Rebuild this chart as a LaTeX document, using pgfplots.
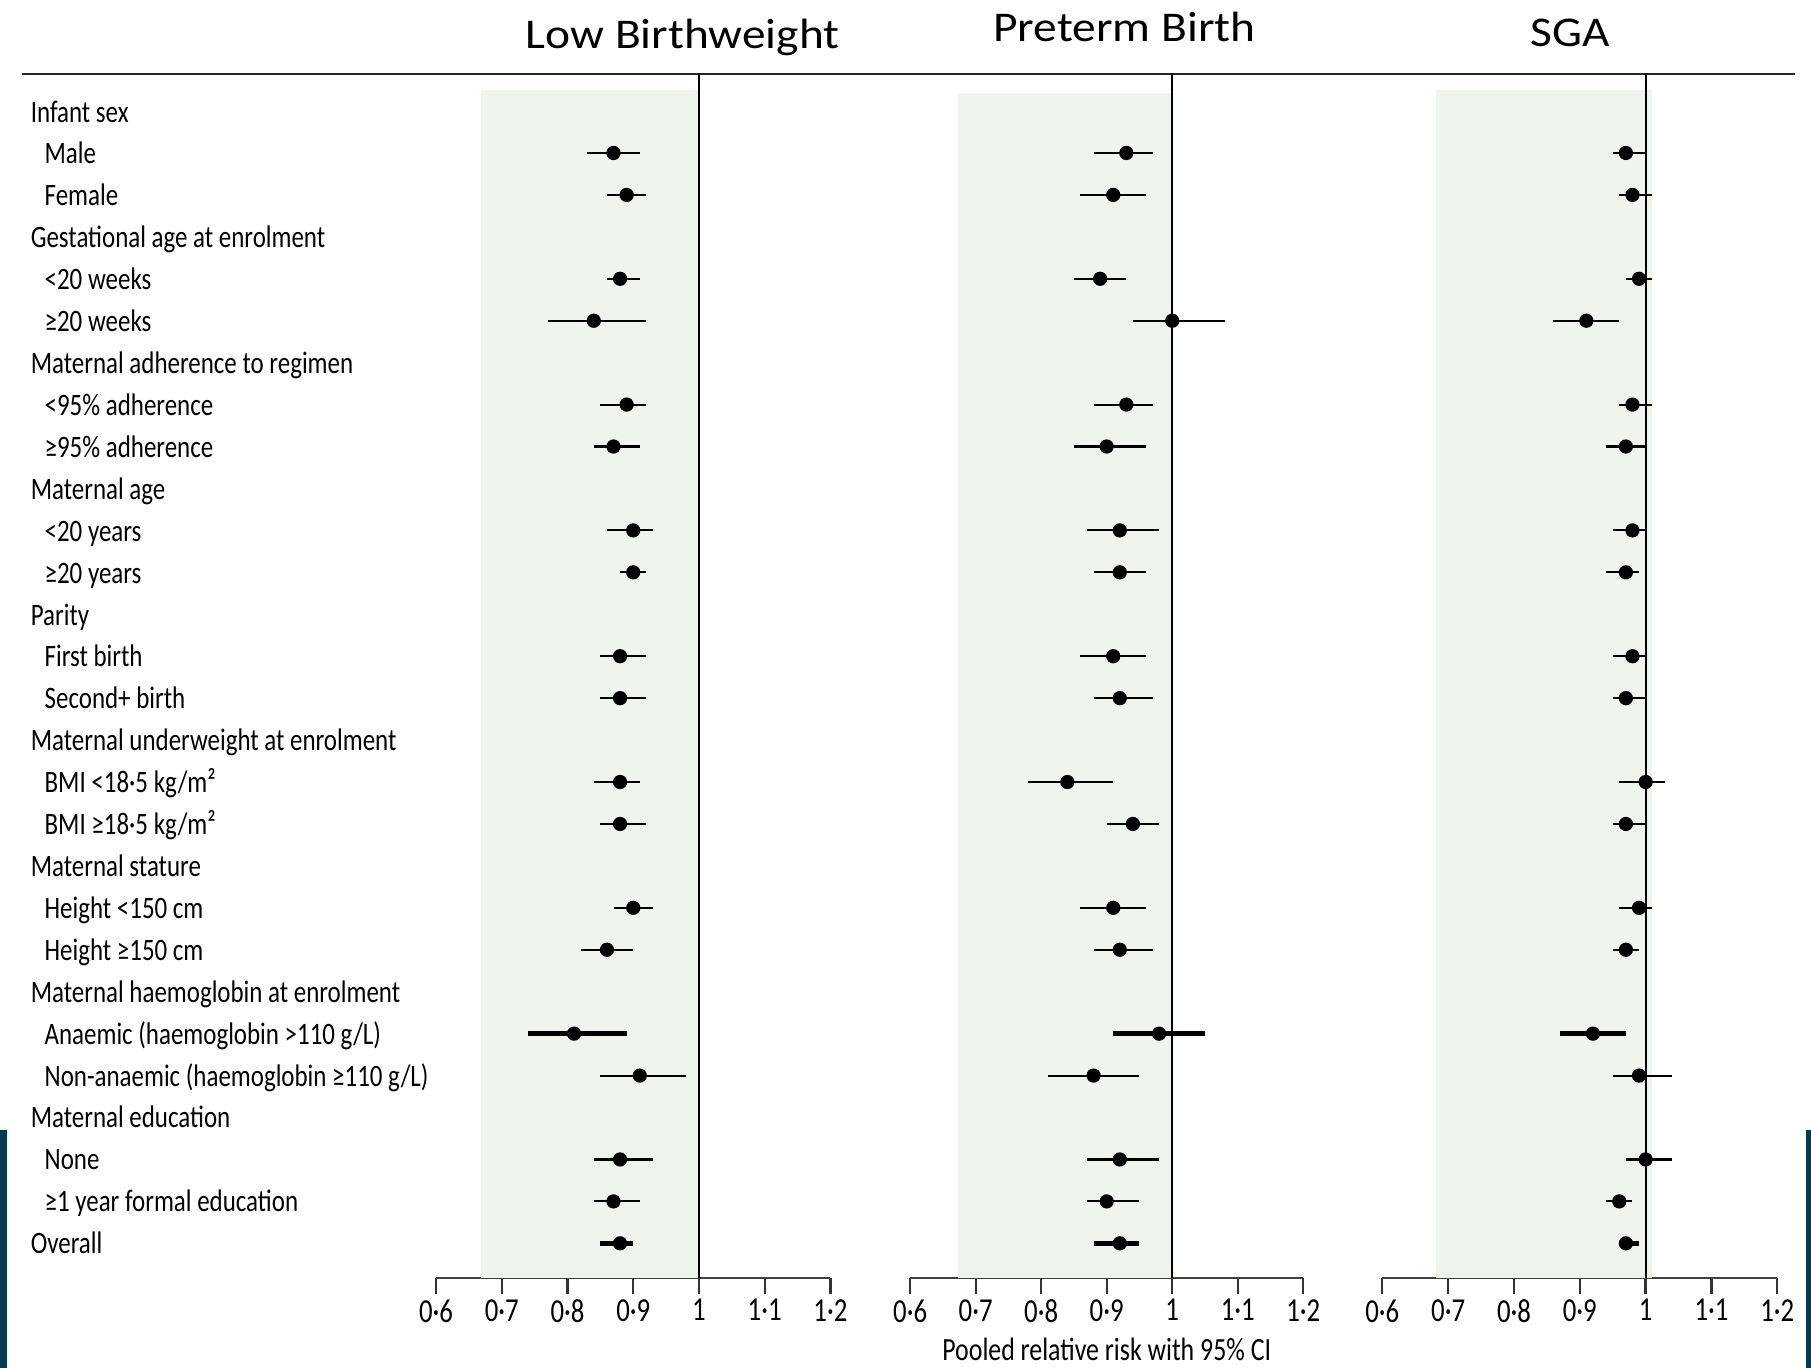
\documentclass[border=0pt]{standalone}
\usepackage{pgfplots}
\pgfplotsset{compat=1.18}
\usepackage{pgfplotstable}
\usepackage{fontspec}
\setmainfont{Carlito}
\newfontfamily\cond[FakeStretch=0.8]{Carlito}
\newfontfamily\ttl[FakeStretch=1.12]{Carlito}
\definecolor{bgshade}{RGB}{239,245,236}
\definecolor{navy}{RGB}{5,56,82}

% Low birthweight
\pgfplotstableread{
row est lo hi
1 0.87 0.83 0.91
2 0.89 0.86 0.92
4 0.88 0.86 0.91
5 0.84 0.77 0.92
7 0.89 0.85 0.92
8 0.87 0.84 0.91
10 0.90 0.86 0.93
11 0.90 0.88 0.92
13 0.88 0.85 0.92
14 0.88 0.85 0.92
16 0.88 0.84 0.91
17 0.88 0.85 0.92
19 0.90 0.87 0.93
20 0.86 0.82 0.90
23 0.91 0.85 0.98
25 0.88 0.84 0.93
26 0.87 0.84 0.91
}\lbw
\pgfplotstableread{
row est lo hi
22 0.81 0.74 0.89
27 0.88 0.85 0.90
}\lbwT
% Preterm birth
\pgfplotstableread{
row est lo hi
1 0.93 0.88 0.97
2 0.91 0.86 0.96
4 0.89 0.85 0.93
5 1.00 0.94 1.08
7 0.93 0.88 0.97
8 0.90 0.85 0.96
10 0.92 0.87 0.98
11 0.92 0.88 0.96
13 0.91 0.86 0.96
14 0.92 0.88 0.97
16 0.84 0.78 0.91
17 0.94 0.90 0.98
19 0.91 0.86 0.96
20 0.92 0.88 0.97
23 0.88 0.81 0.95
25 0.92 0.87 0.98
26 0.90 0.87 0.95
}\ptb
\pgfplotstableread{
row est lo hi
22 0.98 0.91 1.05
27 0.92 0.88 0.95
}\ptbT
% SGA
\pgfplotstableread{
row est lo hi
1 0.97 0.95 1.00
2 0.98 0.96 1.01
4 0.99 0.97 1.01
5 0.91 0.86 0.96
7 0.98 0.96 1.01
8 0.97 0.94 1.00
10 0.98 0.95 1.00
11 0.97 0.94 0.99
13 0.98 0.95 1.00
14 0.97 0.95 1.00
16 1.00 0.96 1.03
17 0.97 0.95 1.00
19 0.99 0.96 1.01
20 0.97 0.95 0.99
23 0.99 0.95 1.04
25 1.00 0.97 1.04
26 0.96 0.94 0.98
}\sga
\pgfplotstableread{
row est lo hi
22 0.92 0.87 0.97
27 0.97 0.96 0.99
}\sgaT

\pgfplotsset{
  fp/.style={scale only axis, height=312.75pt, anchor=south west,
    xmin=0.6, xmax=1.2, ymin=-0.882, ymax=27.83, y dir=reverse,
    axis x line*=bottom, axis y line=none, clip=false,
    xtick={0.6,0.7,0.8,0.9,1,1.1,1.2},
    xticklabels={0·6,0·7,0·8,0·9,1,1·1,1·2},
    tick align=outside, major tick length=4.2pt,
    x axis line style={line width=0.6pt, color=black!75},
    xtick style={line width=0.6pt, color=black!80},
    xticklabel style={font=\cond\fontsize{8.7}{10}\selectfont, text=black, yshift=2.2pt},
  },
  ci/.style={only marks, mark=*, mark size=1.65pt, black, mark options={fill=black},
    error bars/.cd, x dir=both, x explicit, error mark=none,
    error bar style={line width=#1, black}},
}
\newcommand\lab[3]{\node[anchor=base west, inner sep=0pt, font=\cond\fontsize{8.1}{9}\selectfont] at ({#2*0.3pt}, {-(97+36.29*#1)*0.3pt-2.6pt}) {#3};}

\begin{document}
\begin{tikzpicture}
\fill[white] (0pt,0pt) rectangle (470.4pt,-355.2pt);
\fill[navy] (0pt,{-978*0.3pt}) rectangle ({6*0.3pt},{-1184*0.3pt});
\fill[navy] ({1564*0.3pt},{-978*0.3pt}) rectangle ({1568*0.3pt},{-1184*0.3pt});
\draw[line width=0.6pt, black!85] ({18.9*0.3pt},{-64.1*0.3pt}) -- ({1554*0.3pt},{-64.1*0.3pt});

% titles
\node[anchor=base, inner sep=0pt, font=\ttl\fontsize{11}{13}\selectfont] at ({591*0.3pt},{-42*0.3pt}) {Low Birthweight};
\node[anchor=base, inner sep=0pt, font=\ttl\fontsize{11}{13}\selectfont] at ({973.5*0.3pt},{-36*0.3pt}) {Preterm Birth};
\node[anchor=base, inner sep=0pt, font=\ttl\fontsize{11}{13}\selectfont] at ({1359.5*0.3pt},{-40.4*0.3pt}) {SGA};

% row labels
\lab{0}{26}{Infant sex}
\lab{1}{38}{Male}
\lab{2}{38}{Female}
\lab{3}{26}{Gestational age at enrolment}
\lab{4}{38}{<20 weeks}
\lab{5}{38}{≥20 weeks}
\lab{6}{26}{Maternal adherence to regimen}
\lab{7}{38}{<95\% adherence}
\lab{8}{38}{≥95\% adherence}
\lab{9}{26}{Maternal age}
\lab{10}{38}{<20 years}
\lab{11}{38}{≥20 years}
\lab{12}{26}{Parity}
\lab{13}{38}{First birth}
\lab{14}{38}{Second+ birth}
\lab{15}{26}{Maternal underweight at enrolment}
\lab{16}{38}{BMI <18·5 kg/m²}
\lab{17}{38}{BMI ≥18·5 kg/m²}
\lab{18}{26}{Maternal stature}
\lab{19}{38}{Height <150 cm}
\lab{20}{38}{Height ≥150 cm}
\lab{21}{26}{Maternal haemoglobin at enrolment}
\lab{22}{38}{Anaemic (haemoglobin >110 g/L)}
\lab{23}{38}{Non-anaemic (haemoglobin ≥110 g/L)}
\lab{24}{26}{Maternal education}
\lab{25}{38}{None}
\lab{26}{38}{≥1 year formal education}
\lab{27}{26}{Overall}

% Panel 1
\begin{axis}[fp, width=102.45pt, at={({377.5*0.3pt},{-1106.6*0.3pt})}]
  \fill[bgshade] (axis cs:0.6685,-0.51) rectangle (axis cs:1,27.83);
  \draw[line width=0.5pt] (axis cs:1,-0.882) -- (axis cs:1,27.83);
  \addplot[ci=0.55pt] table[x=est, y=row, x error plus expr=\thisrow{hi}-\thisrow{est}, x error minus expr=\thisrow{est}-\thisrow{lo}] {\lbw};
  \addplot[ci=1.3pt] table[x=est, y=row, x error plus expr=\thisrow{hi}-\thisrow{est}, x error minus expr=\thisrow{est}-\thisrow{lo}] {\lbwT};
\end{axis}
% Panel 2
\begin{axis}[fp, width=102.1pt, at={({788*0.3pt},{-1106.6*0.3pt})}]
  \fill[bgshade] (axis cs:0.673,-0.43) rectangle (axis cs:1,27.83);
  \draw[line width=0.5pt] (axis cs:1,-0.882) -- (axis cs:1,27.83);
  \addplot[ci=0.55pt] table[x=est, y=row, x error plus expr=\thisrow{hi}-\thisrow{est}, x error minus expr=\thisrow{est}-\thisrow{lo}] {\ptb};
  \addplot[ci=1.3pt] table[x=est, y=row, x error plus expr=\thisrow{hi}-\thisrow{est}, x error minus expr=\thisrow{est}-\thisrow{lo}] {\ptbT};
\end{axis}
% Panel 3
\begin{axis}[fp, width=102.6pt, at={({1196.8*0.3pt},{-1106.6*0.3pt})}]
  \fill[bgshade] (axis cs:0.6816,-0.51) rectangle (axis cs:1.009,27.83);
  \draw[line width=0.5pt] (axis cs:1,-0.882) -- (axis cs:1,27.83);
  \addplot[ci=0.55pt] table[x=est, y=row, x error plus expr=\thisrow{hi}-\thisrow{est}, x error minus expr=\thisrow{est}-\thisrow{lo}] {\sga};
  \addplot[ci=1.3pt] table[x=est, y=row, x error plus expr=\thisrow{hi}-\thisrow{est}, x error minus expr=\thisrow{est}-\thisrow{lo}] {\sgaT};
\end{axis}

\node[anchor=base, inner sep=0pt, font=\cond\fontsize{8.4}{10}\selectfont] at ({958.2*0.3pt},{-1178*0.3pt}) {Pooled relative risk with 95\% CI};

\pgfresetboundingbox
\path (0pt,0pt) rectangle (470.4pt,-355.2pt);
\end{tikzpicture}
\end{document}
